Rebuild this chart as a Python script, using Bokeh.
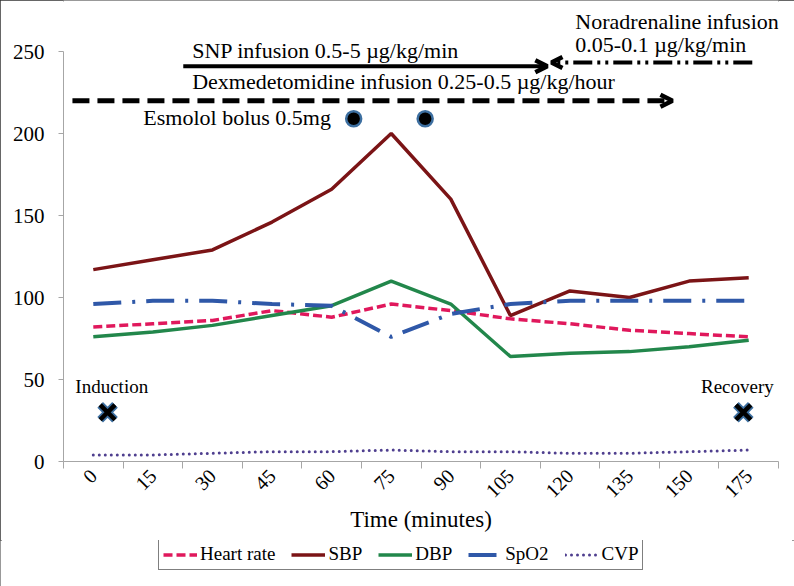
import math
from bokeh.plotting import figure
from bokeh.layouts import column
from bokeh.models import Range1d, FixedTicker, Arrow, OpenHead, Legend, LegendItem
from bokeh.core.properties import value
from bokeh.embed import file_html
from bokeh.resources import INLINE

# ---------------- data ----------------
time_labels = ["0", "15", "30", "45", "60", "75", "90", "105", "120", "135", "150", "175"]
heart_rate = [82, 84, 86, 92, 88, 96, 92, 87, 84, 80, 78, 76]
sbp = [117, 123, 129, 146, 166, 200, 160, 89, 104, 100, 110, 112]
dbp = [76, 79, 83, 89, 95, 110, 96, 64, 66, 67, 70, 74]
spo2 = [96, 98, 98, 96, 95, 76, 90, 96, 98, 98, 98, 98]
cvp = [4, 4, 5, 6, 6, 7, 6, 6, 5, 5, 6, 7]
series_names = ["Heart rate", "SBP", "DBP", "SpO2", "CVP"]

# events (position on the category axis, value level)
esmolol_pos = [4.37, 5.57]
esmolol_level = [209, 209]
event_pos = [0.24, 10.91]
event_level = [30, 30]
event_names = ["Induction", "Recovery"]

# infusion bars (start, end on category axis, level)
dexmed_span = [-0.35, 9.72]
dexmed_level = 220
snp_span = [1.51, 7.62]
snp_level = 241
norad_span = [11.06, 7.69]
norad_level = 243.3

x = list(range(len(time_labels)))
all_series = [heart_rate, sbp, dbp, spo2, cvp]

FONT = "Liberation Serif"
styles = [
    dict(line_color="#E0185C", line_width=3.5, line_dash="9 4"),
    dict(line_color="#7B1416", line_width=3.5),
    dict(line_color="#22874B", line_width=3.5),
    dict(line_color="#2F58A8", line_width=4, line_dash="28 11 3 11"),
    dict(line_color="#4F3F8F", line_width=3, line_dash="0 6", line_cap="round"),
]

p = figure(width=794, height=540,
           x_range=Range1d(-0.5, 11.5), y_range=Range1d(0, 281.1),
           output_backend="svg", toolbar_location=None,
           min_border_left=63, min_border_right=16, min_border_top=0,
           min_border_bottom=79)
p.outline_line_color = None
p.xgrid.grid_line_color = None
p.ygrid.grid_line_color = None
p.background_fill_color = "white"
p.border_fill_color = "white"

# y axis
p.yaxis.ticker = FixedTicker(ticks=[0, 50, 100, 150, 200, 250])
p.yaxis.bounds = (0, 250)
p.yaxis.axis_line_color = "#A6A6A6"
p.yaxis.major_tick_line_color = "#A6A6A6"
p.yaxis.major_tick_out = 5
p.yaxis.major_tick_in = 0
p.yaxis.minor_tick_line_color = None
p.yaxis.major_label_standoff = 14
p.yaxis.major_label_text_font = FONT
p.yaxis.major_label_text_font_size = "21px"
p.yaxis.major_label_text_color = "black"

# x axis (category style)
p.xaxis.ticker = FixedTicker(ticks=x, minor_ticks=[i - 0.5 for i in range(len(time_labels) + 1)])
p.xaxis.major_label_overrides = {i: lab for i, lab in enumerate(time_labels)}
p.xaxis.axis_line_color = "#A6A6A6"
p.xaxis.major_tick_line_color = None
p.xaxis.major_tick_out = 7
p.xaxis.major_tick_in = 0
p.xaxis.minor_tick_line_color = "#A6A6A6"
p.xaxis.minor_tick_out = 7
p.xaxis.minor_tick_in = 0
p.xaxis.major_label_orientation = math.pi / 4
p.xaxis.major_label_standoff = 4
p.xaxis.major_label_text_font = FONT
p.xaxis.major_label_text_font_size = "20px"
p.xaxis.major_label_text_color = "black"
p.xaxis.axis_label = "Time (minutes)"
p.xaxis.axis_label_text_font = FONT
p.xaxis.axis_label_text_font_size = "23px"
p.xaxis.axis_label_text_font_style = "normal"
p.xaxis.axis_label_text_color = "black"
p.xaxis.axis_label_standoff = 0

# series
for ys, st in zip(all_series, styles):
    p.line(x, ys, **st)

# infusion arrows
p.add_layout(Arrow(end=OpenHead(size=12, line_width=4.5, line_color="black"),
                   x_start=dexmed_span[0], y_start=dexmed_level,
                   x_end=dexmed_span[1], y_end=dexmed_level,
                   line_width=5, line_dash="17 8", line_color="black"))
p.add_layout(Arrow(end=OpenHead(size=12, line_width=4.5, line_color="black"),
                   x_start=snp_span[0], y_start=snp_level,
                   x_end=snp_span[1], y_end=snp_level,
                   line_width=4, line_color="black"))
p.add_layout(Arrow(end=OpenHead(size=11, line_width=4.5, line_color="black"),
                   x_start=norad_span[0], y_start=norad_level,
                   x_end=norad_span[1], y_end=norad_level,
                   line_width=4, line_dash="19 5 3 5 3 5", line_color="black"))

# annotation texts
txt = dict(text_font=value(FONT), text_baseline="alphabetic", text_color="black")
p.text(x=[1.66], y=[250.6], text=["SNP infusion 0.5-5 µg/kg/min"],
       text_font_size="22px", text_align="left", **txt)
p.text(x=[1.66], y=[231.7], text=["Dexmedetomidine infusion 0.25-0.5 µg/kg/hour"],
       text_font_size="22px", text_align="left", **txt)
p.text(x=[0.84], y=[209.8], text=["Esmolol bolus 0.5mg"],
       text_font_size="22px", text_align="left", **txt)
p.text(x=[8.09, 8.09], y=[268.0, 254.5],
       text=["Noradrenaline infusion", "0.05-0.1 µg/kg/min"],
       text_font_size="22px", text_align="left", **txt)
p.text(x=[0.31, 10.81], y=[45.8, 45.8], text=event_names,
       text_font_size="19px", text_align="center", **txt)

# event markers
p.scatter(esmolol_pos, esmolol_level, marker="circle", size=15,
          fill_color="black", line_color="#3D6FA0", line_width=2.5)
p.scatter(event_pos, event_level, marker="x", size=21,
          line_color="#3D6FA0", line_width=8)
p.scatter(event_pos, event_level, marker="x", size=21,
          line_color="black", line_width=4.5)

# legend strip (separate small figure below the chart; the series lie outside its view)
lf = figure(width=794, height=46, x_range=Range1d(0, 1), y_range=Range1d(-2, -1),
            output_backend="svg", toolbar_location=None,
            x_axis_type=None, y_axis_type=None,
            min_border_left=0, min_border_right=0, min_border_top=0, min_border_bottom=0)
lf.outline_line_color = None
lf.xgrid.grid_line_color = None
lf.ygrid.grid_line_color = None
try:
    p.frame_align = False
    lf.frame_align = False
except Exception:
    pass
items = []
for name, ys, st in zip(series_names, all_series, styles):
    r = lf.line(x, ys, **st)
    items.append(LegendItem(label=name, renderers=[r]))
lg = Legend(items=items)
lg.orientation = "horizontal"
lg.location = (158, 16)
lg.border_line_color = "black"
lg.border_line_width = 1.5
lg.background_fill_alpha = 1
lg.label_text_font = FONT
lg.label_text_font_size = "19px"
lg.label_text_color = "black"
lg.glyph_width = 34
lg.glyph_height = 19
lg.label_height = 19
lg.label_standoff = 3
lg.spacing = 16
lg.padding = 4
lg.margin = 0
lf.add_layout(lg, "center")

layout = column(p, lf, spacing=0)
layout.styles = {"outline": "2px solid #333333", "outline-offset": "-2px"}

open("out.html", "w").write(file_html(layout, INLINE))
